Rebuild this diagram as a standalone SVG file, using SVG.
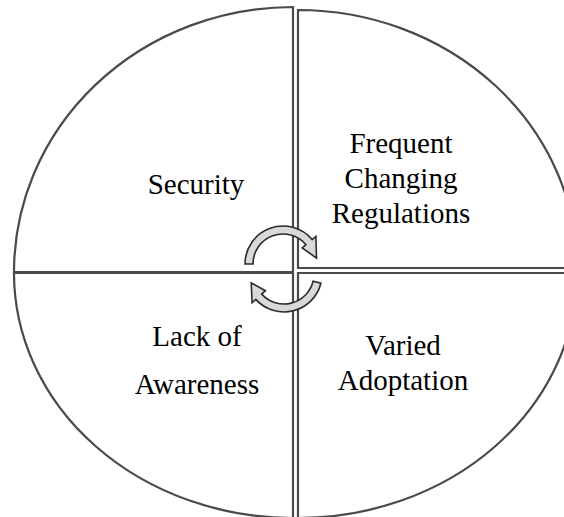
<svg xmlns="http://www.w3.org/2000/svg" width="564" height="517" viewBox="0 0 564 517">
  <style>
    .quad { fill: #ffffff; stroke: #4a4a4a; stroke-width: 2.2; stroke-linejoin: miter; }
    .arrow { fill: #d9d9d9; stroke: #2b2b2b; stroke-width: 1.6; stroke-linejoin: miter; }
    .label { font-family: "Liberation Serif", "Times New Roman", serif; font-size: 29px; fill: #000000; text-anchor: middle; }
  </style>
  <rect x="0" y="0" width="564" height="517" fill="#ffffff"/>

  <g id="security">
    <path class="quad" d="M293,272 L14,272 A279 265 0 0 1 293,7 Z"/>
    <text class="label" x="196" y="194">Security</text>
  </g>

  <g id="regulations">
    <path class="quad" d="M298,268 L298,10 A279 258 0 0 1 577,268 Z"/>
    <text class="label" x="401" y="153">Frequent</text>
    <text class="label" x="401" y="188">Changing</text>
    <text class="label" x="401" y="223">Regulations</text>
  </g>

  <g id="adoptation">
    <path class="quad" d="M298,273 L577,273 A279 245 0 0 1 298,518 Z"/>
    <text class="label" x="403" y="355">Varied</text>
    <text class="label" x="403" y="390">Adoptation</text>
  </g>

  <g id="awareness">
    <path class="quad" d="M293,273 L293,518 A279 245 0 0 1 14,273 Z"/>
    <text class="label" x="197" y="346">Lack of</text>
    <text class="label" x="197" y="394">Awareness</text>
  </g>

  <g id="connectors">
    <path class="arrow" d="M245,264 A38 38 0 0 1 312.1,239.6 L315.9,236.4 L316.5,258.1 L302.2,247.9 L306,244.7 A30 30 0 0 0 253,264 Z"/>
    <path class="arrow" d="M320.9,283.2 A38 38 0 0 1 255.8,299.4 L252.1,302.8 L251.2,282.8 L265.4,290.7 L261.7,294.1 A30 30 0 0 0 313.1,281.3 Z"/>
  </g>
</svg>
